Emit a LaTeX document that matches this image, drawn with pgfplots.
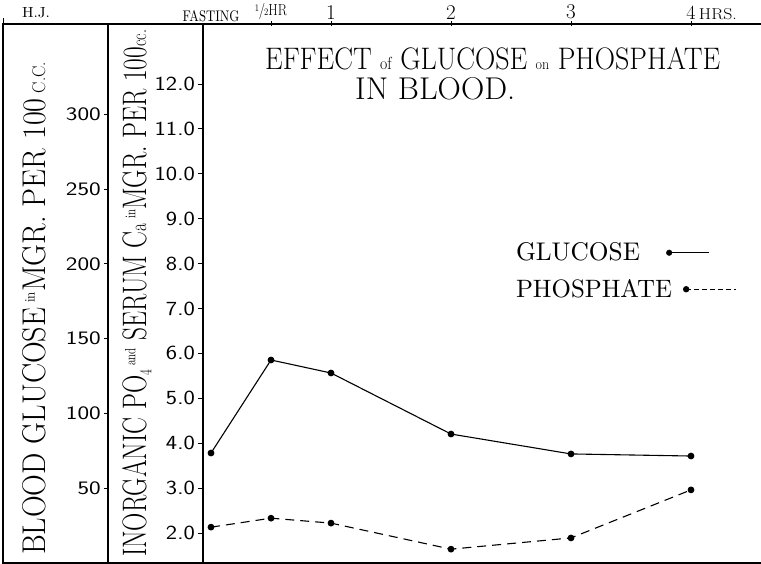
\documentclass[border=0pt]{standalone}
\usepackage{pgfplots}
\pgfplotsset{compat=1.18}
\usepackage{graphicx}
\newcommand{\gl}[1]{\scalebox{1.3}[1]{\fontsize{19}{19}\selectfont\sffamily #1}}
\newcommand{\po}[1]{\scalebox{1.2}[1]{\fontsize{20}{20}\selectfont\sffamily #1}}
\newcommand{\fs}[1]{\fontsize{#1}{#1}\selectfont}
\begin{document}
\begin{tikzpicture}[x=1pt,y=1pt]
\useasboundingbox (0,0) rectangle (761,564);
% frame of the label columns
\draw[line width=1.1pt] (203,540) -- (3,540) -- (3,1) -- (203,1);
\draw[line width=0.8pt] (3,540) -- (3,546);

% glucose scale
\begin{axis}[
  at={(108pt,1pt)}, anchor=south west, scale only axis,
  width=95pt, height=539pt,
  xmin=0, xmax=1, ymin=0, ymax=360.3,
  axis x line=none, axis y line*=left,
  axis line style={line width=1.1pt},
  ytick={50,100,150,200,250,300},
  yticklabels={\gl{50},\gl{100},\gl{150},\gl{200},\gl{250},\gl{300}},
  ytick align=outside, major tick length=4pt,
  tick style={line width=0.8pt, black},
  yticklabel style={inner sep=0pt, xshift=-3pt},
]
\addplot[draw=none] coordinates {(0,0)};
\end{axis}

% glucose data
\begin{axis}[
  at={(203pt,1pt)}, anchor=south west, scale only axis,
  width=558pt, height=539pt,
  xmin=-0.0667, xmax=4.5833, ymin=0, ymax=360.3,
  hide axis, clip=false,
]
\addplot[black, line width=1.1pt, mark=*, mark size=2.8pt] coordinates {
  (0,73.5) (0.5,135.7) (1,127) (2,86.2) (3,72.9) (4,71.5)};
\end{axis}

% phosphate axis and data
\begin{axis}[
  at={(203pt,1pt)}, anchor=south west, scale only axis,
  width=558pt, height=539pt,
  xmin=-0.0667, xmax=4.5833, ymin=1.332, ymax=13.336,
  axis x line*=box, axis y line*=left,
  axis line style={line width=1.1pt},
  clip=false,
  xtick={0.5,1,2,3,4},
  xticklabels={
    {\scalebox{0.85}[1]{\fs{16}\raisebox{4pt}{\fs{10}1}\kern-0.5pt/\kern-1pt{\fs{10}2}HR}},
    {\fs{21}1},{\fs{21}2},{\fs{21}3},
    {\fs{20}4\rlap{\,\resizebox{38pt}{11pt}{HRS.}}}},
  extra x ticks={0},
  extra x tick labels={\resizebox{57pt}{11pt}{FASTING}},
  extra x tick style={major tick length=0pt},
  xtick pos=right, xticklabel pos=right,
  xtick align=center,
  xticklabel style={anchor=south, inner sep=0pt, yshift=2pt},
  ytick={2,3,4,5,6,7,8,9,10,11,12},
  yticklabels={\po{2.0},\po{3.0},\po{4.0},\po{5.0},\po{6.0},\po{7.0},\po{8.0},\po{9.0},\po{10.0},\po{11.0},\po{12.0}},
  ytick align=outside,
  major tick length=5pt,
  tick style={line width=0.8pt, black},
  yticklabel style={inner sep=0pt, xshift=-3pt},
  legend plot pos=right,
  legend cell align=left,
  legend style={draw=none, fill=none, at={(axis cs:2.5417,8.459)}, anchor=north west,
    inner sep=0pt, outer sep=0pt, row sep=17pt, column sep=11pt,
    nodes={inner sep=0pt, outer sep=0pt}},
]
\addlegendimage{legend image code/.code={
  \path[draw=none, fill=none] (0pt,-3pt) rectangle (50pt,3pt);
  \draw[overlay, black, solid, line width=1.1pt] (-17pt,0pt) -- (23pt,0pt);
  \fill[overlay, black] (-17pt,0pt) circle (2.8pt);}}
\addlegendentry{\resizebox{124pt}{18pt}{GLUCOSE}}
\addplot[black, line width=1.1pt, dash pattern=on 9pt off 6pt, mark=*, mark size=2.8pt,
  mark options={solid},
  legend image code/.code={
  \path[draw=none, fill=none] (0pt,-3pt) rectangle (50pt,3pt);
  \draw[black, line width=1pt, dash pattern=on 5pt off 3pt] (0pt,0pt) -- (50pt,0pt);
  \fill[black, solid] (0pt,0pt) circle (2.6pt);}] coordinates {
  (0,2.13) (0.5,2.33) (1,2.22) (2,1.64) (3,1.89) (4,2.96)};
\addlegendentry{\resizebox{156pt}{18pt}{PHOSPHATE}}
\end{axis}

% texts
\node[anchor=center, inner sep=0pt] at (36,551) {\resizebox{28pt}{10pt}{H.J.}};
\node[anchor=base west, inner sep=0pt] at (265,494) {\resizebox{455pt}{22pt}{\fs{32}EFFECT {\fs{18}of} GLUCOSE {\fs{16}on} PHOSPHATE}};
\node[anchor=base west, inner sep=0pt] at (355,464) {\resizebox{160pt}{22pt}{\fs{32}IN BLOOD.}};
\node[rotate=90, anchor=base, inner sep=0pt] at (45,255.5) {\resizebox{493pt}{23pt}{\fs{32}BLOOD GLUCOSE\,\raisebox{10pt}{\fs{14}in}MGR. PER 100\,{\fs{18}C.C.}}};
\node[rotate=90, anchor=base, inner sep=0pt] at (146,270.5) {\resizebox{527pt}{24pt}{\fs{32}INORGANIC PO\raisebox{-5pt}{\fs{16}4}\,\raisebox{10pt}{\fs{14}and} SERUM C{\fs{22}a}\,\raisebox{10pt}{\fs{14}in}MGR. PER 100{\fs{20}cc.}}};
\end{tikzpicture}
\end{document}
